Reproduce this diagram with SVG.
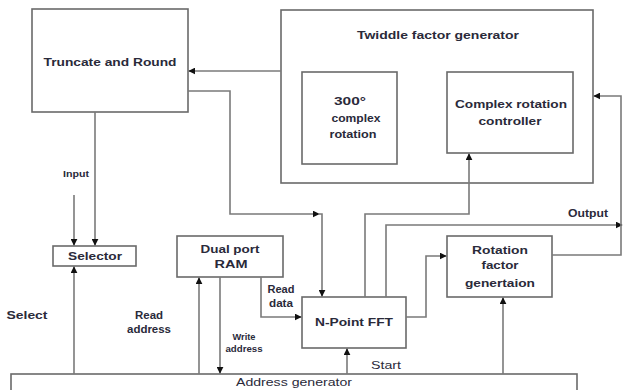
<svg xmlns="http://www.w3.org/2000/svg" width="623" height="390" viewBox="0 0 623 390">
<style>
.box{fill:#fff;stroke:#6a6a6a;stroke-width:1.6}
.ln{fill:none;stroke:#7a7a7a;stroke-width:1.6}
.t{font-family:"Liberation Sans",Arial,sans-serif;font-weight:bold;font-size:11.5px;fill:#2a2a3a;text-anchor:middle;dominant-baseline:central}
.s{font-size:8.5px}
</style>
<defs>
<marker id="ah" viewBox="0 0 10 10" refX="9" refY="5" markerWidth="7" markerHeight="7" markerUnits="userSpaceOnUse" orient="auto">
<path d="M0,0 L10,5 L0,10 z" fill="#111"/>
</marker>
</defs>
<rect width="623" height="390" fill="#fff"/>
<g id="truncate">
<rect class="box" x="32" y="9" width="156" height="103"/>
<text class="t" x="110" y="62" textLength="133" lengthAdjust="spacingAndGlyphs">Truncate and Round</text>
</g>
<g id="twiddle">
<rect class="box" x="281" y="10" width="312" height="173"/>
<text class="t" x="438" y="35" textLength="162" lengthAdjust="spacingAndGlyphs">Twiddle factor generator</text>
</g>
<g id="rot300">
<rect class="box" x="302" y="72" width="95" height="92"/>
<text class="t" x="350" y="101" textLength="32" lengthAdjust="spacingAndGlyphs">300°</text>
<text class="t" x="356" y="118" textLength="49" lengthAdjust="spacingAndGlyphs">complex</text>
<text class="t" x="353" y="134" textLength="47" lengthAdjust="spacingAndGlyphs">rotation</text>
</g>
<g id="crc">
<rect class="box" x="447" y="72" width="126" height="81"/>
<text class="t" x="511" y="104" textLength="112" lengthAdjust="spacingAndGlyphs">Complex rotation</text>
<text class="t" x="510" y="121" textLength="63" lengthAdjust="spacingAndGlyphs">controller</text>
</g>
<g id="selector">
<rect class="box" x="53" y="246" width="83" height="20"/>
<text class="t" x="95" y="256" textLength="54" lengthAdjust="spacingAndGlyphs">Selector</text>
</g>
<g id="ram">
<rect class="box" x="177" y="236" width="106" height="41"/>
<text class="t" x="230" y="249" textLength="59" lengthAdjust="spacingAndGlyphs">Dual port</text>
<text class="t" x="231" y="264" textLength="33" lengthAdjust="spacingAndGlyphs">RAM</text>
</g>
<g id="fft">
<rect class="box" x="302" y="297" width="104" height="51"/>
<text class="t" x="354" y="322" textLength="78" lengthAdjust="spacingAndGlyphs">N-Point FFT</text>
</g>
<g id="rotfac">
<rect class="box" x="447" y="236" width="105" height="61"/>
<text class="t" x="500" y="250" textLength="56" lengthAdjust="spacingAndGlyphs">Rotation</text>
<text class="t" x="500" y="265" textLength="37" lengthAdjust="spacingAndGlyphs">factor</text>
<text class="t" x="500" y="283" textLength="70" lengthAdjust="spacingAndGlyphs">genertaion</text>
</g>
<g id="addrgen">
<rect class="box" x="11" y="374" width="566" height="20"/>
<text class="t" x="294" y="382" textLength="116" lengthAdjust="spacingAndGlyphs" style="font-weight:normal">Address generator</text>
</g>
<g id="connectors">
<path class="ln" d="M281,71 H189" marker-end="url(#ah)"/>
<path class="ln" d="M188,91 H230 V214 H319" marker-end="url(#ah)"/>
<path class="ln" d="M318,214 H322 V296" marker-end="url(#ah)"/>
<path class="ln" d="M95,112 V245" marker-end="url(#ah)"/>
<path class="ln" d="M74,195 V245" marker-end="url(#ah)"/>
<path class="ln" d="M74,374 V267" marker-end="url(#ah)"/>
<path class="ln" d="M199,374 V278" marker-end="url(#ah)"/>
<path class="ln" d="M220,277 V373" marker-end="url(#ah)"/>
<path class="ln" d="M261,277 V317 H301" marker-end="url(#ah)"/>
<path class="ln" d="M347,374 V349" marker-end="url(#ah)"/>
<path class="ln" d="M503,374 V298" marker-end="url(#ah)"/>
<path class="ln" d="M406,317 H426 V256 H446" marker-end="url(#ah)"/>
<path class="ln" d="M365,297 V214 H469 V154" marker-end="url(#ah)"/>
<path class="ln" d="M386,297 V225 H622" marker-end="url(#ah)"/>
<path class="ln" d="M552,255 H621 V96 H594" marker-end="url(#ah)"/>
</g>
<g id="labels">
<text class="t s" x="76" y="174" textLength="26" lengthAdjust="spacingAndGlyphs">Input</text>
<text class="t" x="27" y="315" textLength="41" lengthAdjust="spacingAndGlyphs">Select</text>
<text class="t" x="149" y="315" textLength="28" lengthAdjust="spacingAndGlyphs">Read</text>
<text class="t" x="149" y="329" textLength="44" lengthAdjust="spacingAndGlyphs">address</text>
<text class="t s" x="244" y="337" textLength="23" lengthAdjust="spacingAndGlyphs">Write</text>
<text class="t s" x="244" y="349" textLength="37" lengthAdjust="spacingAndGlyphs">address</text>
<text class="t" x="281" y="289" textLength="27" lengthAdjust="spacingAndGlyphs">Read</text>
<text class="t" x="281" y="303" textLength="24" lengthAdjust="spacingAndGlyphs">data</text>
<text class="t" x="588" y="213" textLength="40" lengthAdjust="spacingAndGlyphs">Output</text>
<text class="t" x="386" y="365" textLength="30" lengthAdjust="spacingAndGlyphs" style="font-weight:normal">Start</text>
</g>
</svg>
